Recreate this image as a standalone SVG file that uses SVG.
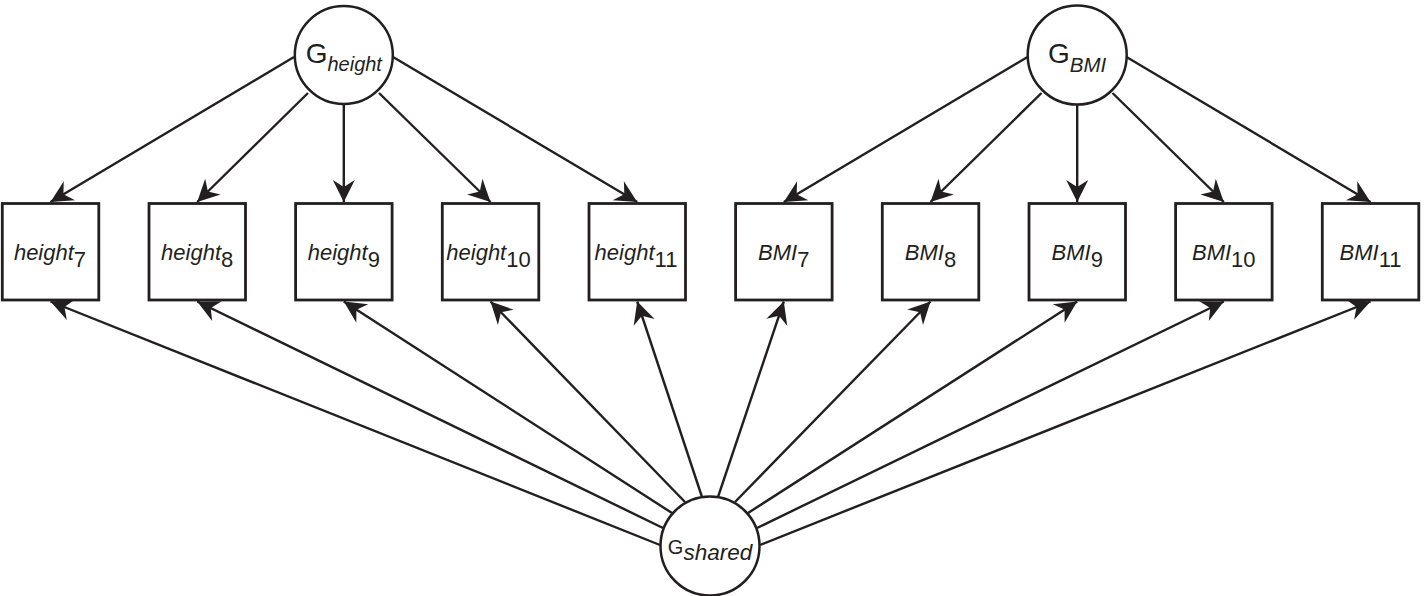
<svg xmlns="http://www.w3.org/2000/svg" width="1424" height="596" viewBox="0 0 1424 596">
<style>
.bg{fill:#ffffff}
.box{fill:#ffffff;stroke:#231f20;stroke-width:2.8}
.lat{fill:#ffffff;stroke:#231f20;stroke-width:2.5}
.edge{stroke:#231f20;stroke-width:2.4;fill:none;marker-end:url(#arr)}
text{font-family:"Liberation Sans",Arial,sans-serif;fill:#231f20}
.lbl{font-size:22px;font-style:italic;text-anchor:middle}
.sub{font-style:normal}
.ltxt{text-anchor:middle}
</style>
<defs>
<marker id="arr" viewBox="-23 -12 24 24" refX="0" refY="0" markerWidth="24" markerHeight="24" markerUnits="userSpaceOnUse" orient="auto">
<path d="M0,0 L-22,-11 L-15,0 L-22,11 Z" fill="#231f20"/>
</marker>
</defs>
<rect class="bg" x="0" y="0" width="1424" height="596"/>
<g id="connectors">
<line class="edge" x1="294" y1="57" x2="50.5" y2="202"/>
<line class="edge" x1="308" y1="93" x2="197.2" y2="202"/>
<line class="edge" x1="343.8" y1="104" x2="343.8" y2="202"/>
<line class="edge" x1="379" y1="93" x2="490.5" y2="202"/>
<line class="edge" x1="393" y1="57" x2="637.2" y2="202"/>
<line class="edge" x1="1027.5" y1="57" x2="783.8" y2="202"/>
<line class="edge" x1="1041.5" y1="93" x2="930.5" y2="202"/>
<line class="edge" x1="1077.2" y1="104" x2="1077.2" y2="202"/>
<line class="edge" x1="1112.5" y1="93" x2="1223.8" y2="202"/>
<line class="edge" x1="1126.5" y1="57" x2="1370.5" y2="202"/>
<line class="edge" x1="660" y1="545" x2="50.5" y2="301.5"/>
<line class="edge" x1="663" y1="528" x2="197.2" y2="301.5"/>
<line class="edge" x1="672" y1="513" x2="343.8" y2="301.5"/>
<line class="edge" x1="685" y1="502" x2="490.5" y2="301.5"/>
<line class="edge" x1="702" y1="497" x2="637.2" y2="301.5"/>
<line class="edge" x1="718" y1="497" x2="783.8" y2="301.5"/>
<line class="edge" x1="735" y1="502" x2="930.5" y2="301.5"/>
<line class="edge" x1="748" y1="513" x2="1077.2" y2="301.5"/>
<line class="edge" x1="757" y1="528" x2="1223.8" y2="301.5"/>
<line class="edge" x1="760" y1="545" x2="1370.5" y2="301.5"/>
</g>
<g id="G_height">
<circle class="lat" cx="343.8" cy="55" r="49"/>
<text class="ltxt" x="343.8" y="63"><tspan font-size="28">G</tspan><tspan font-size="20" font-style="italic" dy="8">height</tspan></text>
</g>
<g id="G_BMI">
<circle class="lat" cx="1077.2" cy="55" r="49.5"/>
<text class="ltxt" x="1077.2" y="63"><tspan font-size="28">G</tspan><tspan font-size="20.5" font-style="italic" dy="9">BMI</tspan></text>
</g>
<g id="G_shared">
<circle class="lat" cx="710" cy="546" r="49.5"/>
<text class="ltxt" x="710" y="554"><tspan font-size="20">G</tspan><tspan font-size="22.5" font-style="italic" dy="6">shared</tspan></text>
</g>
<g id="height7">
<rect class="box" x="2.3" y="203.5" width="96.5" height="96.5"/>
<text class="lbl" x="50" y="260">height<tspan class="sub" dy="7">7</tspan></text>
</g>
<g id="height8">
<rect class="box" x="149" y="203.5" width="96.5" height="96.5"/>
<text class="lbl" x="197.2" y="260">height<tspan class="sub" dy="7">8</tspan></text>
</g>
<g id="height9">
<rect class="box" x="295.6" y="203.5" width="96.5" height="96.5"/>
<text class="lbl" x="343.8" y="260">height<tspan class="sub" dy="7">9</tspan></text>
</g>
<g id="height10">
<rect class="box" x="442.3" y="203.5" width="96.5" height="96.5"/>
<text class="lbl" x="488.5" y="260">height<tspan class="sub" dy="7">10</tspan></text>
</g>
<g id="height11">
<rect class="box" x="589" y="203.5" width="96.5" height="96.5"/>
<text class="lbl" x="636" y="260">height<tspan class="sub" dy="7">11</tspan></text>
</g>
<g id="BMI7">
<rect class="box" x="735.6" y="203.5" width="96.5" height="96.5"/>
<text class="lbl" x="783.8" y="260">BMI<tspan class="sub" dy="7">7</tspan></text>
</g>
<g id="BMI8">
<rect class="box" x="882.3" y="203.5" width="96.5" height="96.5"/>
<text class="lbl" x="930.5" y="260">BMI<tspan class="sub" dy="7">8</tspan></text>
</g>
<g id="BMI9">
<rect class="box" x="1029" y="203.5" width="96.5" height="96.5"/>
<text class="lbl" x="1077.2" y="260">BMI<tspan class="sub" dy="7">9</tspan></text>
</g>
<g id="BMI10">
<rect class="box" x="1175.6" y="203.5" width="96.5" height="96.5"/>
<text class="lbl" x="1223.8" y="260">BMI<tspan class="sub" dy="7">10</tspan></text>
</g>
<g id="BMI11">
<rect class="box" x="1322.3" y="203.5" width="96.5" height="96.5"/>
<text class="lbl" x="1370.5" y="260">BMI<tspan class="sub" dy="7">11</tspan></text>
</g>
</svg>
